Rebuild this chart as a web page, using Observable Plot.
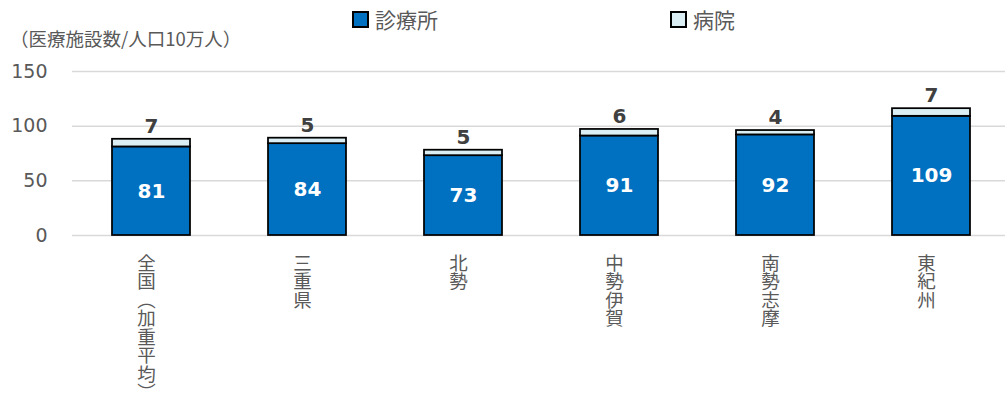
<!DOCTYPE html>
<html><head><meta charset="utf-8">
<script src="https://cdn.jsdelivr.net/npm/d3@7"></script>
<script src="https://cdn.jsdelivr.net/npm/@observablehq/plot@0.6"></script>
<style>
body{margin:0;background:#fff;font-family:"DejaVu Sans","Noto Sans CJK JP",sans-serif;}
#wrap{position:relative;width:1005px;height:400px;overflow:hidden;}
.leg{position:absolute;top:8px;font-size:21px;color:#595959;font-family:"Noto Sans CJK JP",sans-serif;line-height:22px;display:flex;align-items:center;}
.sw{display:inline-block;width:13px;height:13px;border:2px solid #000;margin-right:6px;}
#ytitle{position:absolute;left:10px;top:28px;font-size:18.5px;color:#595959;font-family:"Noto Sans CJK JP",sans-serif;line-height:20px;}
</style></head>
<body><div id="wrap">
<div class="leg" style="left:352px"><span class="sw" style="background:#0070C0"></span>診療所</div>
<div class="leg" style="left:670px"><span class="sw" style="background:#DAEEF3"></span>病院</div>
<div id="ytitle">（医療施設数/人口10万人）</div>
</div>
<script>
const categories = ["全国（加重平均）","三重県","北勢","中勢伊賀","南勢志摩","東紀州"];
const seriesNames = ["診療所","病院"];
const clinics = [81,84,73,91,92,109];
const hospitals = [7,5,5,6,4,7];
const yTicks = [0,50,100,150];
const colors = ["#0070C0","#DAEEF3"];

const rows = [];
categories.forEach((c,i)=>{
  rows.push({cat:c, series:seriesNames[0], value:clinics[i]});
  rows.push({cat:c, series:seriesNames[1], value:hospitals[i]});
});
const clinicRows = categories.map((c,i)=>({cat:c, v:clinics[i]}));
const topRows = categories.map((c,i)=>({cat:c, v:hospitals[i], total:clinics[i]+hospitals[i]}));

const plot = Plot.plot({
  width:1005, height:400,
  marginTop:71, marginBottom:165, marginLeft:72, marginRight:0,
  style:{fontFamily:'"DejaVu Sans","Noto Sans CJK JP",sans-serif', background:"#fff"},
  x:{domain:categories, range:[71.7,1011], paddingInner:0.5, paddingOuter:0.25, axis:null},
  y:{domain:[0,150], ticks:yTicks, axis:null},
  color:{domain:seriesNames, range:colors},
  marks:[
    Plot.ruleY(yTicks, {stroke:"#d9d9d9", strokeWidth:1.5}),
    Plot.axisY({ticks:yTicks, tickSize:0, tickPadding:25, fontSize:19, fill:"#595959", label:null, tickFormat:d=>String(d)}),
    Plot.barY(rows, {x:"cat", y:"value", fill:"series", stroke:"#000", strokeWidth:1.75}),
    Plot.text(clinicRows, {x:"cat", y:d=>d.v/2, text:d=>String(d.v), fill:"#fff", fontSize:20, fontWeight:"bold"}),
    Plot.text(topRows, {x:"cat", y:"total", text:d=>String(d.v), fill:"#404040", fontSize:20, fontWeight:"bold", dy:-13}),
    Plot.text(categories, {x:d=>d, y:0, text:d=>d, fill:"#595959", fontSize:18.5, fontFamily:'"Noto Sans CJK JP",sans-serif', dy:12, dx:-5, textAnchor:"start", className:"xlab"})
  ]
});
document.getElementById("wrap").prepend(plot);
plot.style.position="absolute"; plot.style.left="0"; plot.style.top="0";
d3.select(plot).selectAll("g.xlab text, .xlab text")
  .attr("writing-mode","vertical-rl")
  .style("writing-mode","vertical-rl")
  .attr("dy", null);
</script>
</body></html>
